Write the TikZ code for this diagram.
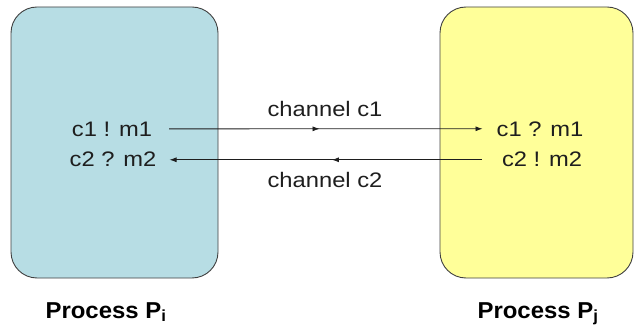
\documentclass[tikz,border=0pt]{standalone}
\usepackage{fontspec}
\setmainfont{Liberation Sans}
\newfontfamily\diagfont[FakeStretch=1.13]{Liberation Sans}
\newfontfamily\diagbold[FakeStretch=1.04]{Liberation Sans Bold}
\usetikzlibrary{arrows.meta,decorations.markings}
\definecolor{procblue}{RGB}{183,221,228}
\definecolor{procyellow}{RGB}{255,255,153}
\definecolor{edgegray}{RGB}{64,64,64}
\definecolor{inkgray}{RGB}{30,30,30}
\tikzset{
  process/.style={draw=edgegray, line width=0.9pt, rounded corners=26pt},
  optext/.style={font=\diagfont\fontsize{21}{24}\selectfont, text=inkgray, inner sep=0pt, anchor=base},
  chlabel/.style={font=\diagfont\fontsize{21}{24}\selectfont, text=inkgray, inner sep=0pt, anchor=base},
  proclabel/.style={font=\diagbold\fontsize{23}{26}\selectfont, text=black, inner sep=0pt, anchor=base},
  channel/.style={draw=inkgray, line width=0.8pt, -{Latex[length=7pt,width=5pt]},
    postaction={decorate},
    decoration={markings, mark=at position 0.48 with {\arrow{Latex[length=7pt,width=5pt]}}}}
}
\begin{document}
\begin{tikzpicture}[x=1pt,y=-1pt]
  \useasboundingbox (0,0) rectangle (634,331);
  % process boxes
  \draw[process, fill=procblue] (11,7) rectangle (218,278);
  \draw[process, fill=procyellow] (440,7) rectangle (633,278);
  % operations inside the processes
  \node[optext] (isend) at (112,137) {c1 ! m1};
  \node[optext] (irecv) at (113,167) {c2 ? m2};
  \node[optext] (jrecv) at (540,137) {c1 ? m1};
  \node[optext] (jsend) at (542,167) {c2 ! m2};
  % channels
  \draw[channel] ([xshift=17pt,yshift=1pt]isend.east) -- ([xshift=-14pt,yshift=1pt]jrecv.west);
  \draw[channel] ([xshift=-20pt]jsend.west) -- ([xshift=13pt]irecv.east);
  \node[chlabel] (c1lab) at (325,117) {channel c1};
  \node[chlabel] (c2lab) at (325,188) {channel c2};
  % process names
  \node[proclabel] (pi) at (106,318) {Process P\textsubscript{i}};
  \node[proclabel] (pj) at (538,318) {Process P\textsubscript{j}};
\end{tikzpicture}
\end{document}
